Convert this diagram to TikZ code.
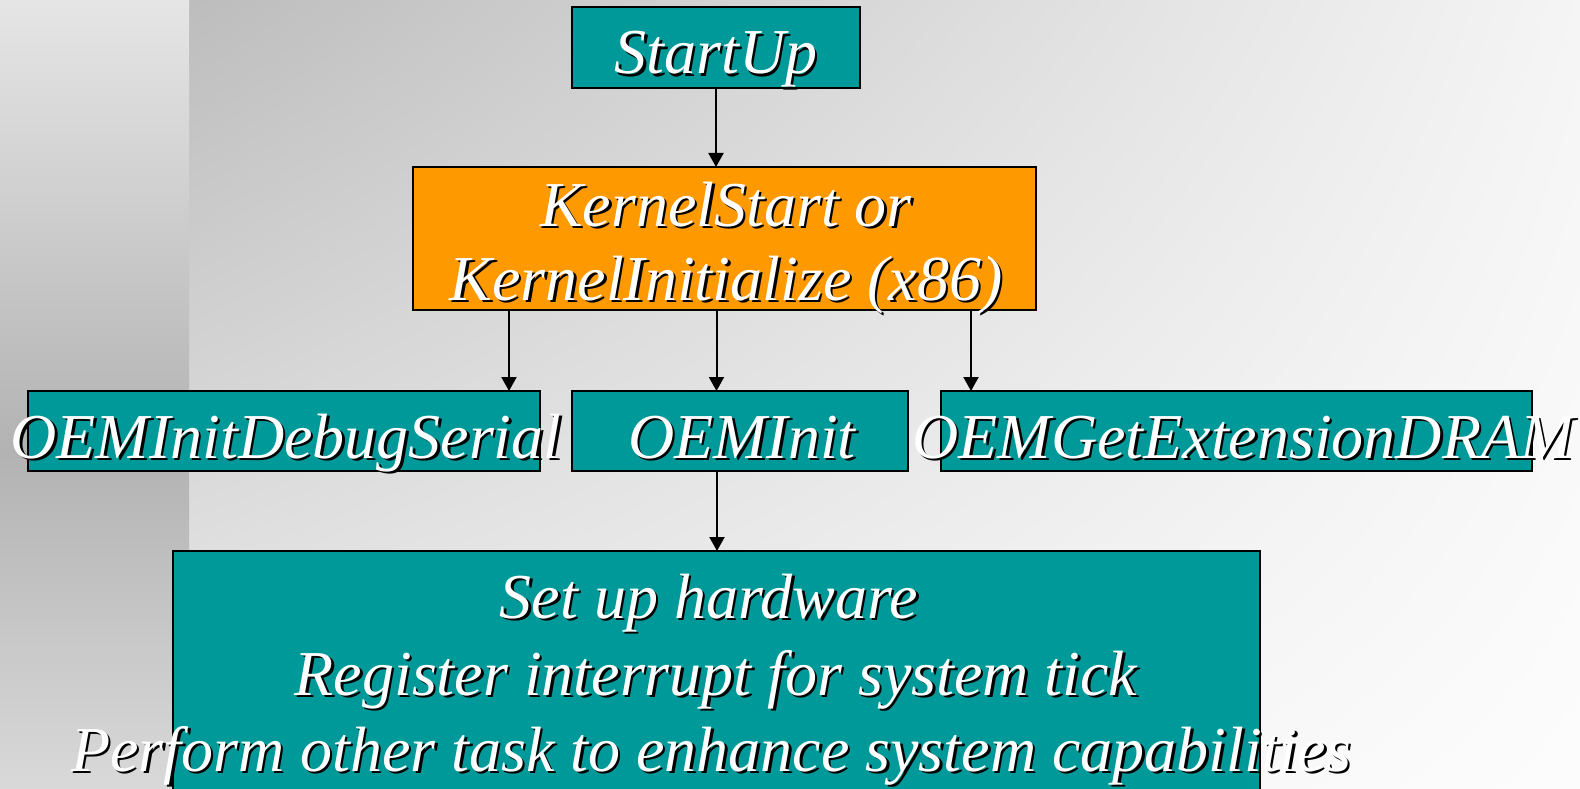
\documentclass[tikz,border=0pt]{standalone}
\usepackage{fontspec}
\setmainfont{Liberation Serif}
\usetikzlibrary{arrows.meta,shadings}

\definecolor{boxteal}{HTML}{009999}
\definecolor{boxorange}{HTML}{FF9900}

\tikzset{
  box/.style={draw=black, line width=1.6pt, inner sep=0pt, outer sep=0pt},
  tealbox/.style={box, fill=boxteal},
  orangebox/.style={box, fill=boxorange},
  label text/.style={font=\fontsize{64}{76}\selectfont\itshape, text=white,
                     inner sep=0pt, anchor=base},
  label shadow/.style={label text, text=black, xshift=2.5pt, yshift=-2.5pt},
  arr/.style={draw=black, line width=2pt, -{Triangle[length=14pt,width=15pt]}},
}

% white italic caption with a black drop shadow
\newcommand\castlabel[3]{%
  \node[label shadow] (#1-shadow) at (#2) {#3};
  \node[label text] (#1) at (#2) {#3};}

\begin{document}
\begin{tikzpicture}[x=1pt, y=-1pt]
  \useasboundingbox (0,0) rectangle (1580,789);
  \clip (0,0) rectangle (1580,789);

  % background
  \shade[upper left=black!26, upper right=black!4,
         lower left=black!7, lower right=black!1] (189,0) rectangle (1580,789);
  \shade[top color=black!10, bottom color=black!30] (0,0) rectangle (189,450);
  \shade[top color=black!30, bottom color=black!15] (0,450) rectangle (189,789);

  % boxes
  \node[tealbox, minimum width=288pt, minimum height=81pt] (startup) at (716,47.5) {};
  \node[orangebox, minimum width=623pt, minimum height=143pt] (kernel) at (724.5,238.5) {};
  \node[tealbox, minimum width=512pt, minimum height=80pt] (debug) at (284,431) {};
  \node[tealbox, minimum width=336pt, minimum height=80pt] (oeminit) at (740,431) {};
  \node[tealbox, minimum width=591pt, minimum height=80pt] (extdram) at (1236.5,431) {};
  \node[tealbox, minimum width=1087pt, minimum height=300pt] (hardware) at (716.5,701) {};

  % connectors
  \draw[arr] (startup.south) -- (startup.south |- kernel.north);
  \draw[arr] ([xshift=-215.5pt]kernel.south) -- ([xshift=-215.5pt]kernel.south |- debug.north);
  \draw[arr] ([xshift=-8pt]kernel.south) -- ([xshift=-8pt]kernel.south |- oeminit.north);
  \draw[arr] ([xshift=246.5pt]kernel.south) -- ([xshift=246.5pt]kernel.south |- extdram.north);
  \draw[arr] ([xshift=-23pt]oeminit.south) -- ([xshift=-23pt]oeminit.south |- hardware.north);

  % captions
  \castlabel{t-startup}{716,74}{StartUp}
  \castlabel{t-kernel1}{726,226}{KernelStart or}
  \castlabel{t-kernel2}{726,300}{KernelInitialize (x86)}
  \castlabel{t-debug}{286,458}{OEMInitDebugSerial}
  \castlabel{t-oeminit}{742,458}{OEMInit}
  \castlabel{t-extdram}{1243,458}{OEMGetExtensionDRAM}
  \castlabel{t-hw1}{709,618}{Set up hardware}
  \castlabel{t-hw2}{716,695}{Register interrupt for system tick}
  \castlabel{t-hw3}{711,771}{Perform other task to enhance system capabilities}
\end{tikzpicture}
\end{document}
